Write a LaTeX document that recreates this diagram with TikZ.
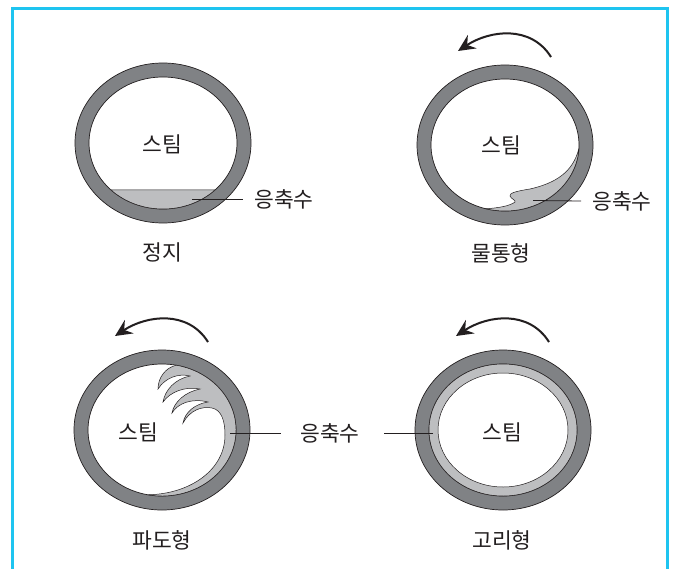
\documentclass[tikz,border=0pt]{standalone}
\usepackage{fontspec}
\newfontfamily\krfont{Noto Sans CJK KR}
\usetikzlibrary{arrows.meta}
\definecolor{pipegray}{RGB}{128,130,133}
\definecolor{watergray}{RGB}{189,190,192}
\definecolor{framecyan}{RGB}{30,196,240}
\definecolor{inkblack}{RGB}{35,31,32}

\begin{document}
\begin{tikzpicture}[x=1pt,y=-1pt,
  pipe/.style={fill=pipegray, draw=inkblack, line width=0.7pt, even odd rule},
  water/.style={fill=watergray, draw=inkblack, line width=0.5pt},
  leader/.style={draw=inkblack, line width=0.8pt},
  rot/.style={draw=inkblack, line width=2pt, -{Stealth[length=17pt,width=16pt,inset=6pt]}},
  label/.style={font=\krfont\fontsize{21.5}{22}\selectfont, text=inkblack, inner sep=0pt},
]
% page and frame
\path[use as bounding box, fill=white] (0,0) rectangle (676,569);
\draw[framecyan, line width=3pt] (12.5,569) -- (12.5,9) -- (667,9) -- (667,569);

% pipe centres
\coordinate (c1) at (163,143);
\coordinate (c2) at (505,145);
\coordinate (c3) at (162,430);
\coordinate (c4) at (503,430);

% ---------- 정지 ----------
\path[pipe] (c1) ellipse[x radius=88, y radius=80] (c1) ellipse[x radius=74, y radius=66];
\path[water] ([shift={(c1)}]45.4:74 and 66) arc[start angle=45.4, end angle=134.6, x radius=74, y radius=66] -- cycle;
\node[label] (s1) at (162,144) {스팀};
\node[label] (w1) at (284,199.5) {응축수};
\node[label] (t1) at (162,252) {정지};
\coordinate (p1) at (192,199.5);
\draw[leader] (p1) -- ([xshift=-11pt]w1.west);

% ---------- 물통형 ----------
\path[pipe] (c2) ellipse[x radius=88, y radius=80] (c2) ellipse[x radius=74, y radius=66];
\path[water] ([shift={(c2)}]3:74 and 66)
  .. controls (573,172) and (556,183) .. (530,189)
  .. controls (517,191) and (509,193) .. (510,196)
  .. controls (511,199) and (516,200) .. (515,202)
  .. controls (510,206) and (498,208) .. ([shift={(c2)}]105:74 and 66)
  arc[start angle=105, end angle=3, x radius=74, y radius=66] -- cycle;
\draw[rot] ([shift={(46,-88)}]c2) .. controls ([shift={(26,-120)}]c2) and ([shift={(-15,-115)}]c2) .. ([shift={(-47,-94)}]c2);
\node[label] (s2) at (501,145) {스팀};
\node[label] (w2) at (622,201) {응축수};
\node[label] (t2) at (501,253) {물통형};
\coordinate (p2) at (533,200.5);
\draw[leader] (p2) -- ([xshift=-11pt]w2.west);

% ---------- 파도형 ----------
\path[pipe] (c3) ellipse[x radius=88, y radius=80] (c3) ellipse[x radius=74, y radius=66];
\path[water] ([shift={(c3)}]-79:74 and 66)
  .. controls (165,368) and (158,378) .. (158,389)
  .. controls (165,378) and (178,373) .. (190,376)
  .. controls (175,379) and (165,390) .. (163,402)
  .. controls (170,392) and (185,386) .. (200,389)
  .. controls (185,392) and (174,402) .. (172,413)
  .. controls (178,403) and (192,398) .. (208,402)
  .. controls (195,404) and (185,412) .. (183,423)
  .. controls (190,410) and (202,406) .. (212,408)
  .. controls (222,410) and (225,422) .. (225,435)
  .. controls (225,470) and (190,494) .. ([shift={(c3)}]101:74 and 66)
  arc[start angle=101, end angle=-79, x radius=74, y radius=66] -- cycle;
\draw[rot] ([shift={(46,-88)}]c3) .. controls ([shift={(26,-120)}]c3) and ([shift={(-15,-115)}]c3) .. ([shift={(-47,-94)}]c3);
\node[label] (s3) at (138,432) {스팀};
\node[label] (w3) at (330,433) {응축수};
\node[label] (t3) at (162,540) {파도형};
\coordinate (p3) at (230,433);
\draw[leader] (p3) -- ([xshift=-19pt]w3.west);

% ---------- 고리형 ----------
\path[pipe] (c4) ellipse[x radius=88, y radius=80] (c4) ellipse[x radius=74, y radius=66];
\path[water, even odd rule] (c4) ellipse[x radius=74, y radius=66] (c4) ellipse[x radius=65, y radius=57];
\draw[rot] ([shift={(46,-88)}]c4) .. controls ([shift={(26,-120)}]c4) and ([shift={(-15,-115)}]c4) .. ([shift={(-47,-94)}]c4);
\node[label] (s4) at (502,432) {스팀};
\node[label] (t4) at (502,540) {고리형};
\coordinate (p4) at (433,433);
\draw[leader] (p4) -- ([xshift=24pt]w3.east);
\end{tikzpicture}
\end{document}
